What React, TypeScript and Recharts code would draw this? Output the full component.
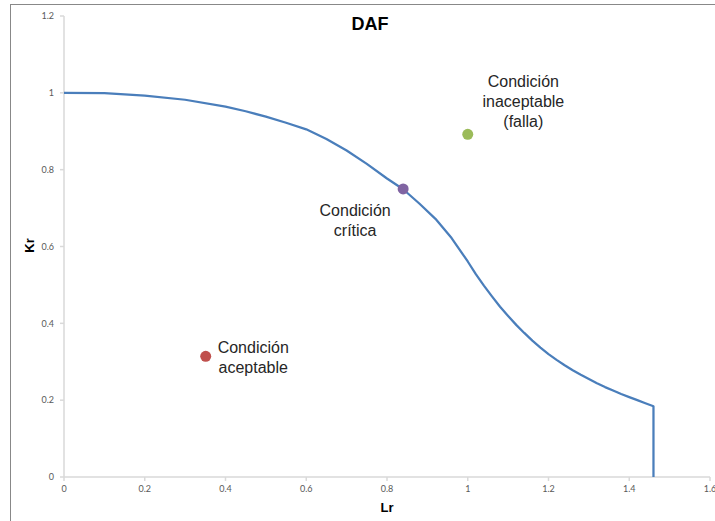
import React from "react";
import { ScatterChart, Scatter, XAxis, YAxis } from "recharts";

// Failure assessment diagram curve
const curveLr = [0, 0.1, 0.2, 0.3, 0.4, 0.45, 0.5, 0.55, 0.6, 0.65, 0.7, 0.75, 0.8, 0.84, 0.88, 0.92, 0.96, 1.0, 1.02, 1.04, 1.06, 1.08, 1.1, 1.12, 1.14, 1.16, 1.18, 1.2, 1.22, 1.24, 1.26, 1.28, 1.3, 1.32, 1.34, 1.36, 1.38, 1.4, 1.42, 1.44, 1.46, 1.46];
const curveKr = [1.0, 0.999, 0.993, 0.982, 0.964, 0.952, 0.938, 0.922, 0.905, 0.88, 0.85, 0.815, 0.777, 0.749, 0.712, 0.672, 0.622, 0.561, 0.528, 0.498, 0.47, 0.443, 0.419, 0.396, 0.375, 0.355, 0.337, 0.32, 0.305, 0.291, 0.278, 0.266, 0.255, 0.244, 0.234, 0.225, 0.216, 0.208, 0.2, 0.192, 0.184, 0];

// Assessment points
const pointNames = ["aceptable", "critica", "inaceptable"];
const pointLr = [0.351, 0.84, 1.0];
const pointKr = [0.314, 0.75, 0.892];
const pointColors = ["#c0504d", "#8064a2", "#9bbb59"];
const pointLabels = [
  ["Condición", "aceptable"],
  ["Condición", "crítica"],
  ["Condición", "inaceptable", "(falla)"],
];
const labelOffsets = [
  [47.5, -9],
  [-48, 21.4],
  [55.6, -53],
];

const xTicks = [0, 0.2, 0.4, 0.6, 0.8, 1, 1.2, 1.4, 1.6];
const yTicks = [0, 0.2, 0.4, 0.6, 0.8, 1, 1.2];

const title = "DAF";
const xLabel = "Lr";
const yLabel = "Kr";

const curveData = curveLr.map((x, i) => ({ x, y: curveKr[i] }));

const makeShape = (idx: number) => (props: any) => {
  const { cx, cy } = props;
  const [dx, dy] = labelOffsets[idx];
  return (
    <g>
      <circle cx={cx} cy={cy} r={5.5} fill={pointColors[idx]} />
      {pointLabels[idx].map((t, i) => (
        <text
          key={i}
          x={cx + dx}
          y={cy + dy + i * 20}
          textAnchor="middle"
          dominantBaseline="central"
          fontSize={16}
          fill="#262626"
          fontFamily="'Liberation Sans', Arial, sans-serif"
        >
          {t}
        </text>
      ))}
    </g>
  );
};

const tickStyle = { fontSize: 9, fill: "#595959", fontFamily: "Lato, 'Liberation Sans', sans-serif" };

export default function App() {
  return (
    <div style={{ position: "absolute", left: 0, top: 0, width: 715, height: 521, overflow: "hidden", background: "#fff" }}>
      <div style={{ position: "absolute", left: 10, top: 4, width: 760, height: 560, border: "1px solid #888888", boxSizing: "border-box" }} />
      <div style={{ position: "absolute", left: 0, top: 0 }}>
        <ScatterChart width={715} height={521} margin={{ top: 16, right: 5, bottom: 14, left: 0 }}>
          <XAxis
            type="number"
            dataKey="x"
            domain={[0, 1.6]}
            ticks={xTicks}
            interval={0}
            height={30}
            tickSize={4}
            tickMargin={5}
            stroke="#d9d9d9"
            strokeWidth={1.5}
            tick={tickStyle}
            tickLine={{ stroke: "#d9d9d9" }}
            allowDataOverflow
          />
          <YAxis
            type="number"
            dataKey="y"
            domain={[0, 1.2]}
            ticks={yTicks}
            interval={0}
            width={64}
            tickSize={4}
            tickMargin={6}
            stroke="#d9d9d9"
            strokeWidth={1.5}
            tick={tickStyle}
            tickLine={{ stroke: "#d9d9d9" }}
            allowDataOverflow
          />
          <Scatter
            data={curveData}
            line={{ stroke: "#4a7ebb", strokeWidth: 2.25, strokeLinejoin: "round" }}
            lineJointType="linear"
            shape={() => <g />}
            isAnimationActive={false}
            legendType="none"
          />
          {pointNames.map((n, i) => (
            <Scatter
              key={n}
              name={n}
              data={[{ x: pointLr[i], y: pointKr[i] }]}
              shape={makeShape(i)}
              isAnimationActive={false}
              legendType="none"
            />
          ))}
        </ScatterChart>
      </div>
      <div style={{ position: "absolute", left: 320, top: 14.8, width: 100, textAlign: "center", fontSize: 18, lineHeight: "18px", fontWeight: "bold", fontFamily: "'Liberation Sans', Arial, sans-serif", color: "#000" }}>
        {title}
      </div>
      <div style={{ position: "absolute", left: 357, top: 500.7, width: 60, textAlign: "center", fontSize: 13, lineHeight: "13px", fontWeight: "bold", fontFamily: "'Liberation Sans', Arial, sans-serif", color: "#000" }}>
        {xLabel}
      </div>
      <div style={{ position: "absolute", left: 9.2, top: 239.2, width: 40, textAlign: "center", fontSize: 13, lineHeight: "13px", fontWeight: "bold", fontFamily: "'Liberation Sans', Arial, sans-serif", color: "#000", transform: "rotate(-90deg)" }}>
        {yLabel}
      </div>
    </div>
  );
}
